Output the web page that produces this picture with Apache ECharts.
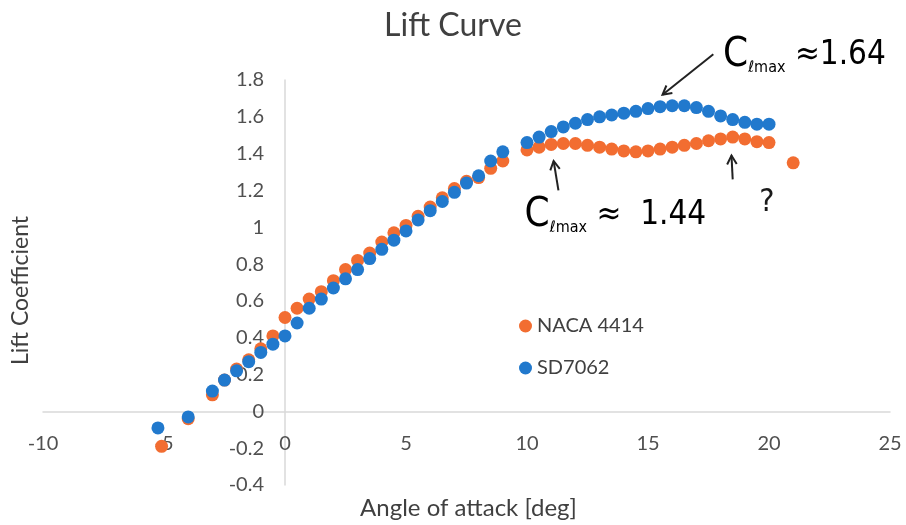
<!DOCTYPE html>
<html>
<head>
<meta charset="utf-8">
<script src="https://cdn.jsdelivr.net/npm/echarts@6/dist/echarts.min.js"></script>
<style>
  html, body { margin: 0; padding: 0; background: #fff; }
  #chart { width: 906px; height: 525px; }
</style>
</head>
<body>
<div id="chart"></div>
<script>
// angle of attack [deg] and lift coefficient
const alphaNaca = [-5.1, -4, -3, -2.5, -2, -1.5, -1, -0.5, 0, 0.5, 1, 1.5, 2, 2.5, 3, 3.5, 4, 4.5, 5, 5.5, 6, 6.5, 7, 7.5, 8, 8.5, 9,
  10, 10.5, 11, 11.5, 12, 12.5, 13, 13.5, 14, 14.5, 15, 15.5, 16, 16.5, 17, 17.5, 18, 18.5, 19, 19.5, 20, 21];
const clNaca = [-0.19, -0.04, 0.09, 0.17, 0.23, 0.28, 0.34, 0.41, 0.51, 0.56, 0.61, 0.65, 0.71, 0.77, 0.82, 0.86, 0.92, 0.97, 1.01, 1.06, 1.11, 1.16, 1.21, 1.25, 1.27, 1.32, 1.36,
  1.42, 1.435, 1.45, 1.455, 1.455, 1.445, 1.435, 1.425, 1.415, 1.41, 1.415, 1.425, 1.435, 1.445, 1.455, 1.47, 1.48, 1.49, 1.48, 1.465, 1.46, 1.35];

const alphaSd = [-5.25, -4, -3, -2.5, -2, -1.5, -1, -0.5, 0, 0.5, 1, 1.5, 2, 2.5, 3, 3.5, 4, 4.5, 5, 5.5, 6, 6.5, 7, 7.5, 8, 8.5, 9,
  10, 10.5, 11, 11.5, 12, 12.5, 13, 13.5, 14, 14.5, 15, 15.5, 16, 16.5, 17, 17.5, 18, 18.5, 19, 19.5, 20];
const clSd = [-0.09, -0.03, 0.11, 0.17, 0.22, 0.27, 0.32, 0.365, 0.41, 0.48, 0.56, 0.61, 0.67, 0.72, 0.77, 0.83, 0.88, 0.93, 0.98, 1.04, 1.09, 1.14, 1.19, 1.24, 1.28, 1.36, 1.41,
  1.46, 1.49, 1.52, 1.545, 1.565, 1.585, 1.6, 1.61, 1.62, 1.63, 1.645, 1.655, 1.66, 1.66, 1.65, 1.63, 1.605, 1.585, 1.57, 1.56, 1.56];

const seriesNames = ['NACA 4414', 'SD7062'];
const colors = ['#f26d31', '#2179cd'];

const font = 'Lato, "Open Sans", sans-serif';
const hand = '"DejaVu Sans Condensed", "Liberation Sans Narrow", sans-serif';

const zip = (xs, ys) => xs.map((x, i) => [x, ys[i]]);

const chart = echarts.init(document.getElementById('chart'));

chart.setOption({
  animation: false,
  textStyle: { fontFamily: font },
  title: {
    text: 'Lift Curve',
    left: 'center',
    top: 5,
    textStyle: { fontFamily: font, fontSize: 32, fontWeight: 'normal', color: '#404040' }
  },
  legend: {
    orient: 'vertical',
    left: 514,
    top: 311,
    itemGap: 22,
    itemWidth: 13,
    itemHeight: 13,
    icon: 'circle',
    data: seriesNames,
    textStyle: { fontFamily: font, fontSize: 20, color: '#404040' }
  },
  grid: { left: 43, right: 16, top: 80, bottom: 40, containLabel: false, outerBoundsMode: 'none' },
  xAxis: {
    type: 'value',
    min: -10,
    max: 25,
    interval: 5,
    axisLine: { onZero: false, lineStyle: { color: '#d9d9d9', width: 1.5 } },
    axisTick: { show: false },
    splitLine: { show: false },
    axisLabel: { margin: 22, fontSize: 20, color: '#505050', fontFamily: font }
  },
  yAxis: {
    type: 'value',
    min: -0.4,
    max: 1.8,
    interval: 0.2,
    axisLine: { show: true, onZero: false, lineStyle: { color: '#d9d9d9', width: 1.5 } },
    axisTick: { show: false },
    splitLine: { show: false },
    axisLabel: {
      margin: 21, fontSize: 20, color: '#505050', fontFamily: font,
      formatter: v => String(Math.round(v * 10) / 10)
    }
  },
  series: [
    {
      name: seriesNames[0],
      type: 'scatter',
      symbolSize: 13,
      itemStyle: { color: colors[0], opacity: 1 },
      data: zip(alphaNaca, clNaca)
    },
    {
      name: seriesNames[1],
      type: 'scatter',
      symbolSize: 13,
      itemStyle: { color: colors[1], opacity: 1 },
      data: zip(alphaSd, clSd)
    }
  ]
});

// move both axes (line + labels) onto the zero of the other axis
const px = (x, y) => chart.convertToPixel({ gridIndex: 0 }, [x, y]);
const gridLeft = px(-10, 0)[0], gridRight = px(25, 0)[0];
const gridTop = px(0, 1.8)[1], gridBottom = px(0, -0.4)[1];
const origin = px(0, 0);

chart.setOption({
  xAxis: { offset: -(gridBottom - origin[1]) },
  yAxis: { offset: -(origin[0] - gridLeft) }
});

function arrow(from, to) {
  const ang = Math.atan2(to[1] - from[1], to[0] - from[0]);
  const len = 10, spread = 0.5;
  const a = [to[0] - len * Math.cos(ang - spread), to[1] - len * Math.sin(ang - spread)];
  const b = [to[0] - len * Math.cos(ang + spread), to[1] - len * Math.sin(ang + spread)];
  return [
    { type: 'line', shape: { x1: from[0], y1: from[1], x2: to[0], y2: to[1] }, style: { stroke: '#222', lineWidth: 2 } },
    { type: 'polyline', shape: { points: [a, to, b] }, style: { stroke: '#222', lineWidth: 2, fill: null } }
  ];
}

const noteRich = {
  c: { fontFamily: hand, fontSize: 40, color: '#1a1a1a' },
  s: { fontFamily: hand, fontSize: 16, color: '#1a1a1a', verticalAlign: 'bottom' },
  v: { fontFamily: hand, fontSize: 33, color: '#1a1a1a' }
};

const p164 = px(18.1, 1.9);
const p144 = px(9.9, 1.03);
const pQ = px(19.6, 1.12);

chart.setOption({
  graphic: [
    {
      type: 'text',
      x: 21, y: (gridTop + gridBottom) / 2 + 8,
      rotation: Math.PI / 2,
      style: { text: 'Lift Coefficient', fontFamily: font, fontSize: 23, fill: '#404040', align: 'center', verticalAlign: 'middle' }
    },
    {
      type: 'text',
      x: (gridLeft + gridRight) / 2 + 2, y: 508,
      style: { text: 'Angle of attack [deg]', fontFamily: font, fontSize: 24, fill: '#404040', align: 'center', verticalAlign: 'middle' }
    },
    {
      type: 'text',
      x: p164[0], y: p164[1] - 26,
      style: { text: '{c|C}{s|ℓmax}{v| ≈1.64}', rich: noteRich }
    },
    ...arrow(px(17.7, 1.94), px(15.6, 1.72)),
    {
      type: 'text',
      x: p144[0], y: p144[1] - 26,
      style: { text: '{c|C}{s|ℓmax}{v| ≈  1.44}', rich: noteRich }
    },
    ...arrow(px(11.3, 1.2), px(11.1, 1.36)),
    {
      type: 'text',
      x: pQ[0], y: pQ[1] - 18,
      style: { text: '?', fontFamily: hand, fontSize: 32, fill: '#1a1a1a' }
    },
    ...arrow(px(18.5, 1.26), px(18.45, 1.39))
  ]
});
</script>
</body>
</html>
